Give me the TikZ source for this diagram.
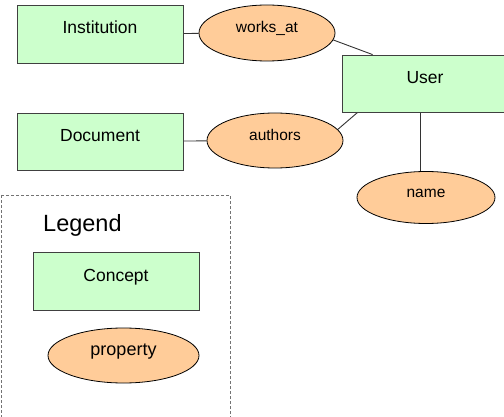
\documentclass[tikz,border=0pt]{standalone}
\usepackage{fontspec}
\setmainfont{Liberation Sans}
\usetikzlibrary{shapes.geometric}
\pgfdeclarelayer{bg}
\pgfsetlayers{bg,main}
\definecolor{conceptgreen}{HTML}{CCFFCC}
\definecolor{proporange}{HTML}{FFCC99}
\tikzset{
        concept/.style={draw=black!75, line width=0.8pt, fill=conceptgreen,
                minimum width=166pt, minimum height=58pt, inner sep=0pt,
                text height=0pt, text depth=0pt, font=\fontsize{17.5}{20}\selectfont},
        prop/.style={ellipse, draw=black, line width=0.8pt, fill=proporange,
                inner sep=0pt, text height=0pt, text depth=0pt,
                font=\fontsize{15.5}{18}\selectfont},
        link/.style={draw=black!80, line width=0.9pt},
        legendframe/.style={draw=black!55, line width=0.9pt, dash pattern=on 3pt off 2pt},
}

\begin{document}
\begin{tikzpicture}[x=1pt, y=-1pt]
        \useasboundingbox (0, 0) rectangle (504, 417);
        \node (inst) [concept] at (100, 34) {Institution};
        \node (works) [prop, minimum width=136pt, minimum height=56pt] at (267, 33) {works\_at};
        \node (user) [concept, minimum height=57pt] at (425, 83.5) {User};
        \node (doc) [concept, minimum height=57pt] at (100, 141.5) {Document};
        \node (auth) [prop, minimum width=136pt, minimum height=55pt] at (275, 140.5) {authors};
        \node (name) [prop, minimum width=138pt, minimum height=52pt] at (426, 197.5) {name};
        % legend
        \draw [legendframe] (1, 195) rectangle (230, 425);
        \node (legend) [anchor=base west, inner sep=0pt, font=\fontsize{23.5}{28}\selectfont] at (43, 232) {Legend};
        \node (concept) [concept] at (116, 281) {Concept};
        \node (property) [prop, minimum width=151pt, minimum height=55pt,
                font=\fontsize{18}{21}\selectfont] at (123.5, 355.5) {property};
        \begin{pgfonlayer}{bg}
                \draw (inst) edge [link] (works);
                \draw (works.-6) edge [link] ([xshift=31pt]user.north west);
                \draw (doc) edge [link] (auth);
                \draw (auth.10) edge [link] ([xshift=16pt]user.south west);
                \draw ([xshift=-5pt]user.south) edge [link] ([xshift=-6pt]name.north);
        \end{pgfonlayer}
\end{tikzpicture}
\end{document}
